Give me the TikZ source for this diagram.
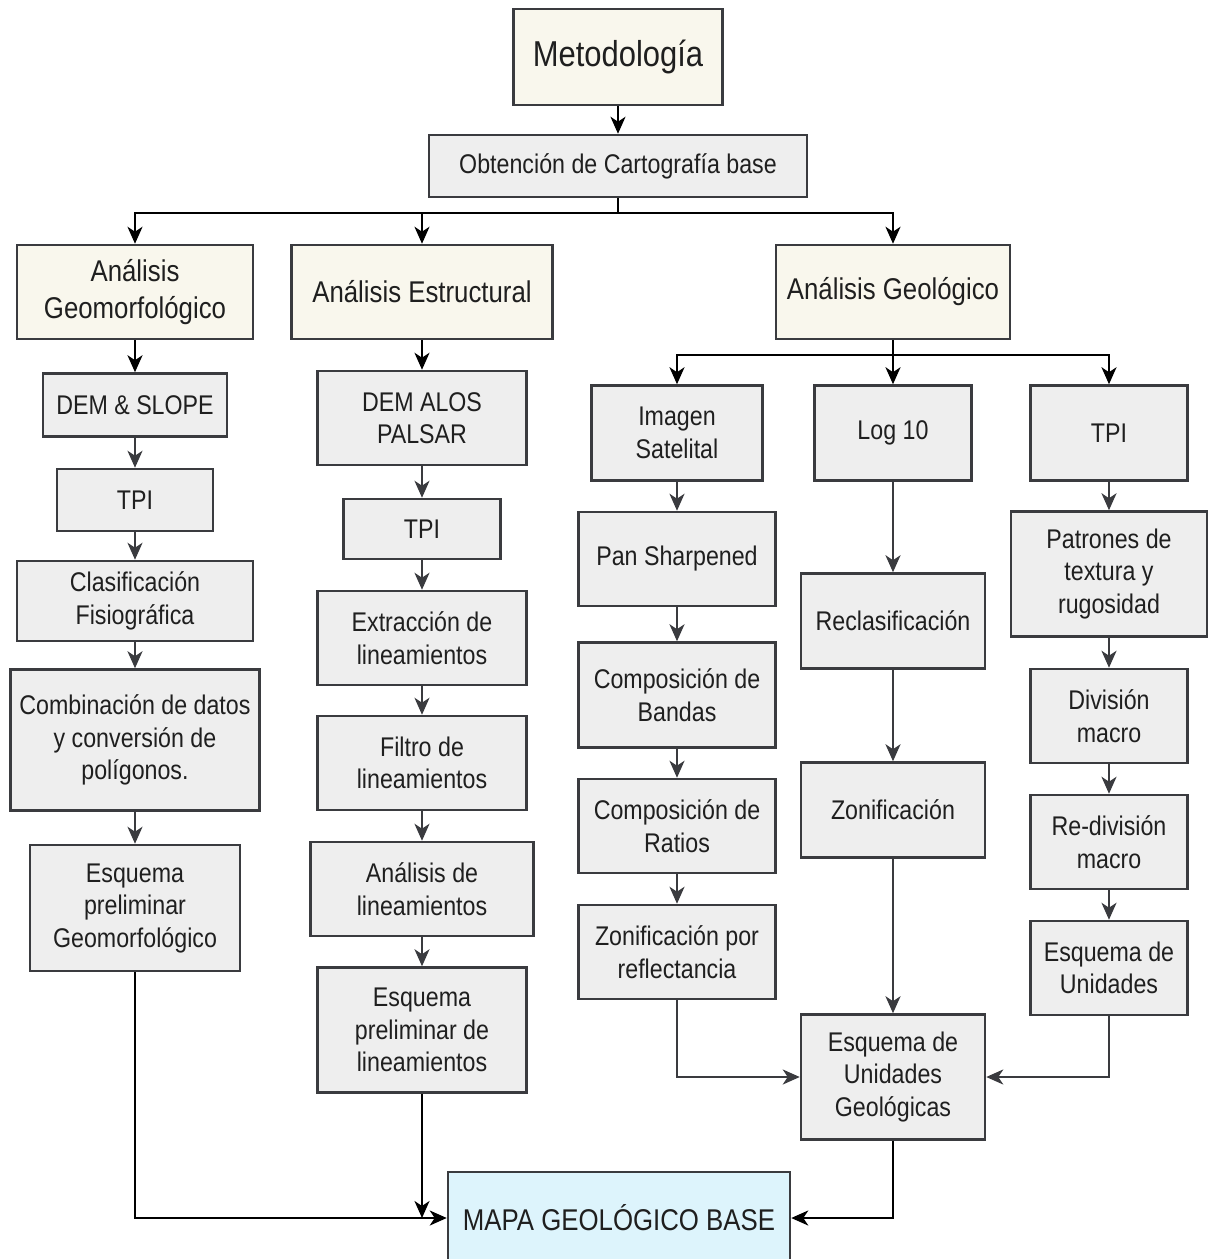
\documentclass[tikz,border=0pt]{standalone}
\usepackage{fontspec}
\setmainfont{Liberation Sans}[FakeStretch=0.86]
\usetikzlibrary{arrows.meta}
\definecolor{borde}{HTML}{3A3B3F}
\definecolor{crema}{HTML}{F9F7ED}
\definecolor{gris}{HTML}{EEEEEE}
\definecolor{celeste}{HTML}{DDF4FC}

\begin{document}
\begin{tikzpicture}[x=1pt,y=-1pt,>={Stealth[length=17pt,width=15pt,inset=5pt]},
		line width=2.5pt,
		caja/.style={draw=borde,fill=gris,align=center,inner sep=0pt,text=black!88,
			font=\fontsize{27}{32.5}\selectfont},
		fase/.style={caja,fill=crema,font=\fontsize{30}{37}\selectfont},
		tam/.style 2 args={minimum width=#1pt,minimum height=#2pt},
		flecha/.style={->,draw=black},
		flechai/.style={->,draw=borde}]
		
		\useasboundingbox (0,0) rectangle (1208,1259);
		
		% cabecera
		\node[fase,tam={209}{96},font=\fontsize{36}{40}\selectfont] (met) at (618,57) {Metodología};
		\node[caja,tam={378}{62}] (obt) at (618,166) {Obtención de Cartografía base};
		\node[fase,tam={236}{94}] (geom) at (135,292) {Análisis\\Geomorfológico};
		\node[fase,tam={261}{94}] (estr) at (422,292) {Análisis Estructural};
		\node[fase,tam={234}{94}] (geol) at (893,292) {Análisis Geológico};
		\coordinate (r1) at (618,213);
		\coordinate (r2) at (893,355);
		
		% geomorfologico
		\node[caja,tam={184}{63}] (dem) at (135,405) {DEM \& SLOPE};
		\node[caja,tam={156}{62}] (tpiA) at (135,500) {TPI};
		\node[caja,tam={236}{80}] (clas) at (135,601) {Clasificación\\Fisiográfica};
		\node[caja,tam={249}{141}] (comb) at (135,740) {Combinación de datos\\y conversión de\\polígonos.};
		\node[caja,tam={210}{126}] (esqGeo) at (135,908) {Esquema\\preliminar\\Geomorfológico};
		
		% estructural
		\node[caja,tam={209}{94}] (alos) at (422,418) {DEM ALOS\\PALSAR};
		\node[caja,tam={157}{60}] (tpiB) at (422,529) {TPI};
		\node[caja,tam={209}{94}] (extr) at (422,638) {Extracción de\\lineamientos};
		\node[caja,tam={209}{94}] (filt) at (422,763) {Filtro de\\lineamientos};
		\node[caja,tam={223}{94}] (anal) at (422,889) {Análisis de\\lineamientos};
		\node[caja,tam={209}{125}] (esqLin) at (422,1030) {Esquema\\preliminar de\\lineamientos};
		
		% geologico
		\node[caja,tam={171}{95}] (imag) at (677,433) {Imagen\\Satelital};
		\node[caja,tam={157}{95}] (log) at (893,433) {Log 10};
		\node[caja,tam={157}{95}] (tpiC) at (1109,433) {TPI};
		\node[caja,tam={197}{94}] (pan) at (677,559) {Pan Sharpened};
		\node[caja,tam={197}{105}] (band) at (677,695) {Composición de\\Bandas};
		\node[caja,tam={197}{94}] (rat) at (677,826) {Composición de\\Ratios};
		\node[caja,tam={197}{94}] (zref) at (677,952) {Zonificación por\\reflectancia};
		\node[caja,tam={184}{95}] (recl) at (893,621) {Reclasificación};
		\node[caja,tam={184}{95}] (zon) at (893,810) {Zonificación};
		\node[caja,tam={184}{125}] (esqUG) at (893,1077) {Esquema de\\Unidades\\Geológicas};
		\node[caja,tam={196}{125}] (patr) at (1109,574) {Patrones de\\textura y\\rugosidad};
		\node[caja,tam={157}{94}] (div) at (1109,716) {División\\macro};
		\node[caja,tam={157}{94}] (rediv) at (1109,842) {Re-división\\macro};
		\node[caja,tam={157}{94}] (esqU) at (1109,968) {Esquema de\\Unidades};
		
		\node[caja,fill=celeste,tam={342}{92},font=\fontsize{30}{37}\selectfont] (mapa) at (619,1218) {MAPA GEOLÓGICO BASE};
		
		% conectores principales
		\draw[flecha] (met) -- (obt);
		\draw (obt) -- (r1);
		\draw[flecha] (r1) -| (geom);
		\draw[flecha] (r1) -| (estr);
		\draw[flecha] (r1) -| (geol);
		\draw[flecha] (geom) -- (dem);
		\draw[flecha] (estr) -- (alos);
		\draw (geol) -- (r2);
		\draw[flecha] (r2) -| (imag);
		\draw[flecha] (r2) -- (log);
		\draw[flecha] (r2) -| (tpiC);
		
		% columnas
		\draw[flechai] (dem) -- (tpiA);
		\draw[flechai] (tpiA) -- (clas);
		\draw[flechai] (clas) -- (comb);
		\draw[flechai] (comb) -- (esqGeo);
		\draw[flechai] (alos) -- (tpiB);
		\draw[flechai] (tpiB) -- (extr);
		\draw[flechai] (extr) -- (filt);
		\draw[flechai] (filt) -- (anal);
		\draw[flechai] (anal) -- (esqLin);
		\draw[flechai] (imag) -- (pan);
		\draw[flechai] (pan) -- (band);
		\draw[flechai] (band) -- (rat);
		\draw[flechai] (rat) -- (zref);
		\draw[flechai] (log) -- (recl);
		\draw[flechai] (recl) -- (zon);
		\draw[flechai] (zon) -- (esqUG);
		\draw[flechai] (tpiC) -- (patr);
		\draw[flechai] (patr) -- (div);
		\draw[flechai] (div) -- (rediv);
		\draw[flechai] (rediv) -- (esqU);
		\draw[flechai] (zref) |- (esqUG);
		\draw[flechai] (esqU) |- (esqUG);
		
		% hacia el mapa
		\draw[flecha] (esqGeo) |- (mapa);
		\draw[flecha] (esqLin) -- (esqLin |- mapa);
		\draw[flecha] (esqUG) |- (mapa);
\end{tikzpicture}
\end{document}
